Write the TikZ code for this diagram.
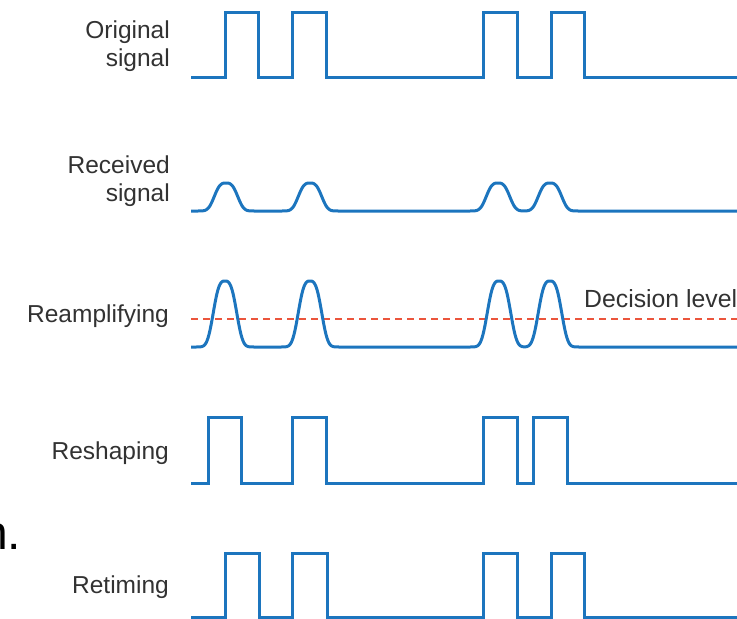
\documentclass[tikz,border=0pt]{standalone}
\usepackage{fontspec}
\setmainfont{Liberation Sans}
\begin{document}
\begin{tikzpicture}[x=1pt,y=-1pt,
  sig/.style={draw={rgb,255:red,28;green,117;blue,190}, line width=3pt, line join=miter},
  lbl/.style={anchor=base east, inner sep=0pt, text={rgb,255:red,50;green,50;blue,50}, font=\fontsize{24.5}{28}\selectfont},
  declevel/.style={draw={rgb,255:red,235;green,85;blue,60}, line width=1.5pt, dash pattern=on 6.5pt off 5.5pt},
  declare function={d2(\x,\c)=min(((\x-\c)/13.5)*((\x-\c)/13.5),30); bump(\x,\c)=exp(-(d2(\x,\c))^1.5);}
]
\useasboundingbox (0,0) rectangle (737,619);
\clip (0,0) rectangle (737,619);
% labels
\node[lbl] (orig1) at (170,38) {Original};
\node[lbl] (orig2) at (170,66) {signal};
\node[lbl] (recv1) at (170,173) {Received};
\node[lbl] (recv2) at (170,201) {signal};
\node[lbl] (ream) at (169,322) {Reamplifying};
\node[lbl] (resh) at (169,459) {Reshaping};
\node[lbl] (reti) at (169,593) {Retiming};
\node[lbl, anchor=base west, font=\fontsize{24.8}{28}\selectfont] (dec) at (584,307) {Decision level};
\node[anchor=base west, inner sep=0pt, font=\fontsize{48}{50}\selectfont] (frag) at (-19,549) {n.};
% original signal
\draw[sig] (191,77) -- (225,77) -- (225,12) -- (258,12) -- (258,77) -- (292,77) -- (292,12) -- (326,12) -- (326,77)
  -- (483,77) -- (483,12) -- (517,12) -- (517,77) -- (551,77) -- (551,12) -- (584,12) -- (584,77) -- (740,77);
% received signal
\draw[sig] plot[domain=191:740, samples=550] (\x, {211 - 28*(bump(\x,226)+bump(\x,310)+bump(\x,498)+bump(\x,550))});
% decision level
\draw[declevel] (191,319) -- (740,319);
% reamplifying
\draw[sig] plot[domain=191:740, samples=550] (\x, {347 - 66*(bump(\x,225)+bump(\x,310)+bump(\x,499)+bump(\x,550))});
% reshaping
\draw[sig] (191,483) -- (208,483) -- (208,417) -- (241,417) -- (241,483) -- (292,483) -- (292,417) -- (326,417) -- (326,483)
  -- (483,483) -- (483,417) -- (517,417) -- (517,483) -- (533,483) -- (533,417) -- (567,417) -- (567,483) -- (740,483);
% retiming
\draw[sig] (191,617) -- (225,617) -- (225,553) -- (259,553) -- (259,617) -- (292,617) -- (292,553) -- (327,553) -- (327,617)
  -- (483,617) -- (483,553) -- (517,553) -- (517,617) -- (551,617) -- (551,553) -- (584,553) -- (584,617) -- (740,617);
\end{tikzpicture}
\end{document}
